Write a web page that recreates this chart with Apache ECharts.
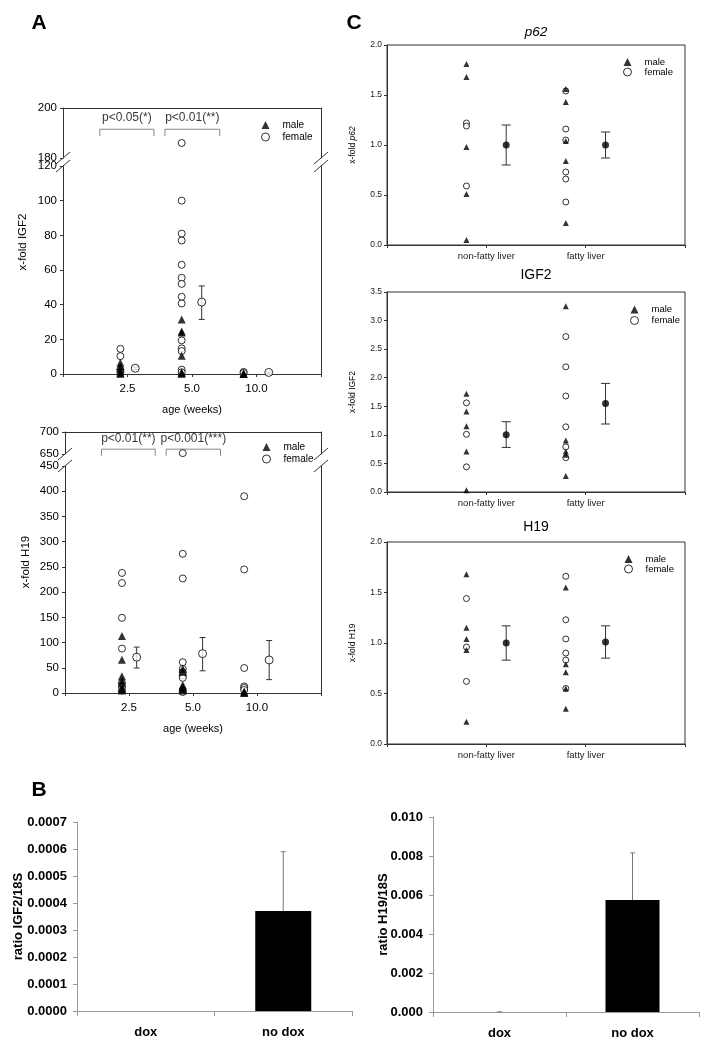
<!DOCTYPE html>
<html>
<head>
<meta charset="utf-8">
<style>
  html, body { margin: 0; padding: 0; background: #fff; }
  #chart { width: 712px; height: 1050px; }
</style>
<script src="https://cdn.jsdelivr.net/npm/echarts@6/dist/echarts.min.js"></script>
</head>
<body>
<div id="chart"></div>
<script>
// ---------- data ----------
// Panel A: x-fold expression per age group (2.5, 5.0, 10.0 weeks)
const ageLabels = ['2.5', '5.0', '10.0'];

const igf2AFemale = [
  [14.5, 10.3, 2.5, 1],
  [186, 100, 81, 77, 63, 55.5, 52, 44.5, 40.7, 19.4, 14.8, 13.2, 2.5, 1],
  [1.2, 0.6]
];
const igf2AMale = [
  [6.5, 4.5, 3, 1.5, 0.5, 0.2],
  [31.5, 24.5, 24, 10.5, 1, 0.5, 0.2],
  [0.3, 0.1, 0]
];
const igf2AMean = [3.3, 41.5, 0.9];
const igf2ALow = [2.6, 31.5, 0.5];
const igf2AHigh = [4.0, 50.8, 1.3];
const igf2PText = ['p<0.05(*)', 'p<0.01(**)'];

const h19AFemale = [
  [238, 218, 149, 88, 20, 12, 5],
  [652, 276, 227, 61, 48, 41, 35, 30, 5, 2],
  [390, 245, 49.5, 13, 10, 6]
];
const h19AMale = [
  [113, 66, 33, 25, 20, 10, 8, 5],
  [48, 42, 16, 12, 8, 5],
  [3, 1, 0]
];
const h19AMean = [71, 78, 65.5];
const h19ALow = [49.5, 44, 26.5];
const h19AHigh = [91, 110, 104];
const h19PText = ['p<0.01(**)', 'p<0.001(***)'];

// Panel C: non-fatty vs fatty liver
const liverLabels = ['non-fatty liver', 'fatty liver'];

const p62Male = [[1.81, 1.68, 0.98, 0.51, 0.05], [1.56, 1.43, 1.04, 0.84, 0.22]];
const p62Female = [[1.22, 1.19, 0.59], [1.54, 1.16, 1.05, 0.73, 0.66, 0.43]];
const p62Mean = [1.0, 1.0];
const p62Low = [0.8, 0.87];
const p62High = [1.2, 1.13];

const igf2CMale = [[1.72, 1.41, 1.15, 0.71, 0.03], [3.25, 0.9, 0.71, 0.65, 0.28]];
const igf2CFemale = [[1.56, 1.01, 0.44], [2.72, 2.19, 1.68, 1.14, 0.79, 0.6]];
const igf2CMean = [1.0, 1.55];
const igf2CLow = [0.78, 1.19];
const igf2CHigh = [1.23, 1.9];

const h19CMale = [[1.68, 1.15, 1.04, 0.93, 0.22], [1.55, 0.79, 0.71, 0.55, 0.35]];
const h19CFemale = [[1.44, 0.96, 0.62], [1.66, 1.23, 1.04, 0.9, 0.83, 0.55]];
const h19CMean = [1.0, 1.01];
const h19CLow = [0.83, 0.85];
const h19CHigh = [1.17, 1.17];

// Panel B: ratio to 18S
const doxLabels = ['dox', 'no dox'];
const igf2Ratio = [0, 0.00037];
const igf2RatioSd = [0, 0.00022];
const h19Ratio = [0, 0.00574];
const h19RatioSd = [0.00001, 0.00242];

// ---------- layout ----------
const FONT = 'Liberation Sans, Arial, Helvetica, sans-serif';
const AXIS = '#333';
const A_POINT_X = [0.89, 1.84, 2.8];
const A_MEAN_X = [1.12, 2.15, 3.19];
const C_POINT_X = [0.8, 1.8];
const C_MEAN_X = [1.2, 2.2];
const A_BRACKETS = [[0.57, 1.41], [1.58, 2.43]];

const grids = [
  { left: 63, top: 108, width: 258, height: 50 },   // 0 A IGF2 upper
  { left: 63, top: 166, width: 258, height: 208 },  // 1 A IGF2 lower
  { left: 65, top: 432, width: 256, height: 22 },   // 2 A H19 upper
  { left: 65, top: 466, width: 256, height: 227 },  // 3 A H19 lower
  { left: 387, top: 45, width: 298, height: 200, show: true, borderColor: AXIS, borderWidth: 1 },  // 4 C p62
  { left: 387, top: 292, width: 298, height: 200, show: true, borderColor: AXIS, borderWidth: 1 }, // 5 C IGF2
  { left: 387, top: 542, width: 298, height: 202, show: true, borderColor: AXIS, borderWidth: 1 }, // 6 C H19
  { left: 77, top: 822, width: 275, height: 189 },  // 7 B IGF2
  { left: 433, top: 817, width: 266, height: 195 }  // 8 B H19
].map(g => Object.assign({ containLabel: false, outerBoundsMode: 'none' }, g));

// ---------- helpers ----------
function leftY(grid, min, max, step, fontSize) {
  return {
    type: 'value', gridIndex: grid, min, max, interval: step, position: 'left',
    axisLine: { show: true, onZero: false, lineStyle: { color: AXIS } },
    axisTick: { show: true, length: 3, lineStyle: { color: AXIS } },
    axisLabel: { color: '#000', fontSize, fontFamily: FONT, margin: 6 },
    splitLine: { show: false }
  };
}
function rightY(grid, min, max) {
  return {
    type: 'value', gridIndex: grid, min, max, position: 'right',
    axisLine: { show: true, onZero: false, lineStyle: { color: AXIS } },
    axisTick: { show: false }, axisLabel: { show: false }, splitLine: { show: false }
  };
}
function ageX(grid, bottom) {
  return {
    type: 'value', gridIndex: grid, min: 0, max: 4, interval: 1,
    position: bottom ? 'bottom' : 'top',
    axisLine: { show: true, onZero: false, lineStyle: { color: AXIS } },
    axisTick: { show: bottom, length: 3, lineStyle: { color: AXIS } },
    axisLabel: { show: bottom, color: '#000', fontSize: 11.5, fontFamily: FONT, margin: 9,
      formatter: v => ageLabels[v - 1] || '' },
    splitLine: { show: false },
    name: bottom ? 'age (weeks)' : '', nameLocation: 'middle', nameGap: 30,
    nameTextStyle: { color: '#000', fontSize: 11, fontFamily: FONT }
  };
}
function liverX(grid) {
  return {
    type: 'value', gridIndex: grid, min: 0, max: 3, interval: 1,
    axisLine: { show: true, onZero: false, lineStyle: { color: AXIS } },
    axisTick: { show: true, length: 3, lineStyle: { color: AXIS } },
    axisLabel: { color: '#222', fontSize: 9.5, fontFamily: FONT, margin: 6,
      formatter: v => liverLabels[v - 1] || '' },
    splitLine: { show: false }
  };
}
function liverY(grid, max, name) {
  return {
    type: 'value', gridIndex: grid, min: 0, max, interval: 0.5,
    axisLine: { show: true, onZero: false, lineStyle: { color: AXIS } },
    axisTick: { show: true, length: 3, lineStyle: { color: AXIS } },
    axisLabel: { color: '#222', fontSize: 8.5, fontFamily: FONT, margin: 5,
      formatter: v => v.toFixed(1) },
    splitLine: { show: false },
    name, nameLocation: 'middle', nameGap: 30, nameMoveOverlap: false,
    nameTextStyle: { color: '#000', fontSize: 8.5, fontFamily: FONT,
      rich: { i: { fontStyle: 'italic', fontSize: 8.5, fontFamily: FONT } } }
  };
}
function doxX(grid) {
  return {
    type: 'category', gridIndex: grid, data: doxLabels,
    axisLine: { show: true, lineStyle: { color: '#999' } },
    axisTick: { show: true, length: 5, alignWithLabel: false, lineStyle: { color: '#999' } },
    axisLabel: { color: '#000', fontSize: 13, fontWeight: 'bold', fontFamily: FONT, margin: 15 }
  };
}
function ratioY(grid, max, step, digits, name, gap) {
  return {
    type: 'value', gridIndex: grid, min: 0, max, interval: step,
    axisLine: { show: true, onZero: false, lineStyle: { color: '#999' } },
    axisTick: { show: true, length: 4, lineStyle: { color: '#999' } },
    axisLabel: { color: '#000', fontSize: 13, fontWeight: 'bold', fontFamily: FONT, margin: 10,
      formatter: v => v.toFixed(digits) },
    splitLine: { show: false },
    name, nameLocation: 'middle', nameGap: gap, nameMoveOverlap: false,
    nameTextStyle: { color: '#000', fontSize: 13, fontWeight: 'bold', fontFamily: FONT }
  };
}

function points(groups, xs, keep) {
  const out = [];
  groups.forEach((vals, i) => vals.forEach(v => { if (keep(v)) out.push([xs[i], v]); }));
  return out;
}
function dots(name, xi, yi, data, female, size) {
  return {
    name, type: 'scatter', xAxisIndex: xi, yAxisIndex: yi, data, silent: true,
    symbol: female ? 'circle' : 'triangle', symbolSize: size,
    itemStyle: female ? { color: '#fff', borderColor: '#000', borderWidth: 1 } : { color: '#000' },
    z: female ? 3 : 4
  };
}
function errorBars(xi, yi, data, capHalf, color, upOnly) {
  return {
    type: 'custom', xAxisIndex: xi, yAxisIndex: yi, silent: true, z: 2, data,
    encode: { x: 0, y: [1, 2] },
    renderItem: (params, api) => {
      const x = api.value(0);
      if (api.value(2) === api.value(1)) return null;
      const lo = api.coord([x, api.value(1)]);
      const hi = api.coord([x, api.value(2)]);
      const style = { stroke: color, lineWidth: 1 };
      const kids = [
        { type: 'line', shape: { x1: lo[0], y1: lo[1], x2: hi[0], y2: hi[1] }, style },
        { type: 'line', shape: { x1: hi[0] - capHalf, y1: hi[1], x2: hi[0] + capHalf, y2: hi[1] }, style }
      ];
      if (!upOnly) kids.push({ type: 'line', shape: { x1: lo[0] - capHalf, y1: lo[1], x2: lo[0] + capHalf, y2: lo[1] }, style });
      return { type: 'group', children: kids };
    }
  };
}
function meanDots(xi, yi, xs, means, open) {
  return {
    name: 'mean', type: 'scatter', xAxisIndex: xi, yAxisIndex: yi, silent: true, z: 6,
    data: means.map((m, i) => [xs[i], m]),
    symbol: 'circle', symbolSize: open ? 8 : 7,
    itemStyle: open ? { color: '#fff', borderColor: '#000', borderWidth: 1 } : { color: '#000' }
  };
}

// broken-axis panel A: upper grid gUp, lower grid gUp+1; y axes in (left,right) pairs
function panelA(gUp, female, male, mean, low, high, breakAt, pText, brLine, brTail, textY) {
  const yUp = gUp * 2, yLo = gUp * 2 + 2;
  const gLo = gUp + 1;
  const s = [];
  s.push(dots('female', gUp, yUp, points(female, A_POINT_X, v => v > breakAt), true, 7));
  s.push(dots('male', gUp, yUp, points(male, A_POINT_X, v => v > breakAt), false, 8));
  s.push(dots('female', gLo, yLo, points(female, A_POINT_X, v => v <= breakAt), true, 7));
  s.push(dots('male', gLo, yLo, points(male, A_POINT_X, v => v <= breakAt), false, 8));
  s.push(errorBars(gLo, yLo, mean.map((m, i) => [A_MEAN_X[i], low[i], high[i]]), 3, '#333', false));
  s.push(meanDots(gLo, yLo, A_MEAN_X, mean, true));
  A_BRACKETS.forEach(([a, b]) => {
    s.push({
      type: 'line', xAxisIndex: gUp, yAxisIndex: yUp, silent: true, clip: false, symbol: 'none',
      lineStyle: { color: '#888', width: 1 },
      data: [[a, brTail], [a, brLine], [b, brLine], [b, brTail]]
    });
  });
  s.push({
    type: 'scatter', xAxisIndex: gUp, yAxisIndex: yUp, silent: true, symbolSize: 0,
    data: pText.map((t, i) => ({ name: t, value: [(A_BRACKETS[i][0] + A_BRACKETS[i][1]) / 2, textY] })),
    label: { show: true, position: 'inside', formatter: '{b}', color: '#000', fontSize: 12, fontFamily: FONT }
  });
  return s;
}
function panelC(g, yi, female, male, mean, low, high) {
  return [
    dots('female', g, yi, points(female, C_POINT_X, () => true), true, 6),
    dots('male', g, yi, points(male, C_POINT_X, () => true), false, 6),
    errorBars(g, yi, mean.map((m, i) => [C_MEAN_X[i], low[i], high[i]]), 4.5, '#333', false),
    meanDots(g, yi, C_MEAN_X, mean, false)
  ];
}

// ---------- axes ----------
const xAxis = [
  ageX(0, false), ageX(1, true), ageX(2, false), ageX(3, true),
  liverX(4), liverX(5), liverX(6),
  doxX(7), doxX(8)
];
const yAxis = [
  leftY(0, 180, 200, 20, 11.5), rightY(0, 180, 200),
  leftY(1, 0, 120, 20, 11.5), rightY(1, 0, 120),
  leftY(2, 650, 700, 50, 11.5), rightY(2, 650, 700),
  leftY(3, 0, 450, 50, 11.5), rightY(3, 0, 450),
  liverY(4, 2.0, 'x-fold {i|p62}'),
  liverY(5, 3.5, 'x-fold IGF2'),
  liverY(6, 2.0, 'x-fold H19'),
  ratioY(7, 0.0007, 0.0001, 4, 'ratio IGF2/18S', 52),
  ratioY(8, 0.01, 0.002, 3, 'ratio H19/18S', 43)
];

// ---------- series ----------
const series = [].concat(
  panelA(0, igf2AFemale, igf2AMale, igf2AMean, igf2ALow, igf2AHigh, 150, igf2PText, 191.5, 188.8, 196),
  panelA(2, h19AFemale, h19AMale, h19AMean, h19ALow, h19AHigh, 500, h19PText, 661, 646, 684),
  panelC(4, 8, p62Female, p62Male, p62Mean, p62Low, p62High),
  panelC(5, 9, igf2CFemale, igf2CMale, igf2CMean, igf2CLow, igf2CHigh),
  panelC(6, 10, h19CFemale, h19CMale, h19CMean, h19CLow, h19CHigh),
  [
    { type: 'bar', xAxisIndex: 7, yAxisIndex: 11, data: igf2Ratio, barWidth: 56, silent: true, itemStyle: { color: '#000' } },
    errorBars(7, 11, igf2Ratio.map((v, i) => [i, v, v + igf2RatioSd[i]]), 2.5, '#777', true),
    { type: 'bar', xAxisIndex: 8, yAxisIndex: 12, data: h19Ratio, barWidth: 54, silent: true, itemStyle: { color: '#000' } },
    errorBars(8, 12, h19Ratio.map((v, i) => [i, v, v + h19RatioSd[i]]), 2.5, '#777', true)
  ]
);

// ---------- legends ----------
function legendAt(left, top, fontSize, lineHeight) {
  return {
    left, top, orient: 'vertical', padding: 0, itemGap: 0, itemWidth: 8, itemHeight: 8,
    selectedMode: false, data: ['male', 'female'],
    itemStyle: { borderWidth: 1 },
    textStyle: { color: '#000', fontSize, fontFamily: FONT, lineHeight, padding: [0, 0, 0, 8] }
  };
}
const legend = [
  legendAt(261, 119, 10, 12),
  legendAt(262, 441, 10, 12),
  legendAt(623, 57, 9.5, 10),
  legendAt(630, 304, 9.5, 11),
  legendAt(624, 554, 9.5, 10)
];

// ---------- decorations: panel letters, titles, axis breaks ----------
function txt(text, x, y, size, extra) {
  return {
    type: 'text', x, y, silent: true,
    style: Object.assign({ text, fill: '#000', fontSize: size, fontFamily: FONT,
      align: 'center', verticalAlign: 'middle', textAlign: 'center', textVerticalAlign: 'middle' }, extra || {})
  };
}
function breakMarks(gUp, gLo) {
  const up = grids[gUp], lo = grids[gLo];
  const yA = up.top + up.height, yB = lo.top;
  const out = [];
  [up.left, up.left + up.width].forEach(x => {
    [yA, yB].forEach(y => {
      out.push({ type: 'line', silent: true, shape: { x1: x - 7, y1: y + 6, x2: x + 7, y2: y - 6 },
        style: { stroke: AXIS, lineWidth: 1 } });
    });
  });
  return out;
}
const yTitleA = (text, x, y) => {
  const t = txt(text, x, y, 11.5);
  t.rotation = Math.PI / 2;
  return t;
};

const graphic = [
  txt('A', 39, 23, 21, { fontWeight: 'bold' }),
  txt('C', 354, 23, 21, { fontWeight: 'bold' }),
  txt('B', 39, 790, 21, { fontWeight: 'bold' }),
  txt('p62', 536, 32, 13.5, { fontStyle: 'italic' }),
  txt('IGF2', 536, 275, 14),
  txt('H19', 536, 527, 14),
  yTitleA('x-fold IGF2', 23, 242),
  yTitleA('x-fold H19', 26, 562)
].concat(breakMarks(0, 1), breakMarks(2, 3));

const chart = echarts.init(document.getElementById('chart'), null, { renderer: 'canvas' });
chart.setOption({
  animation: false,
  backgroundColor: '#fff',
  textStyle: { fontFamily: FONT },
  grid: grids,
  xAxis,
  yAxis,
  legend,
  series,
  graphic
});
</script>
</body>
</html>
